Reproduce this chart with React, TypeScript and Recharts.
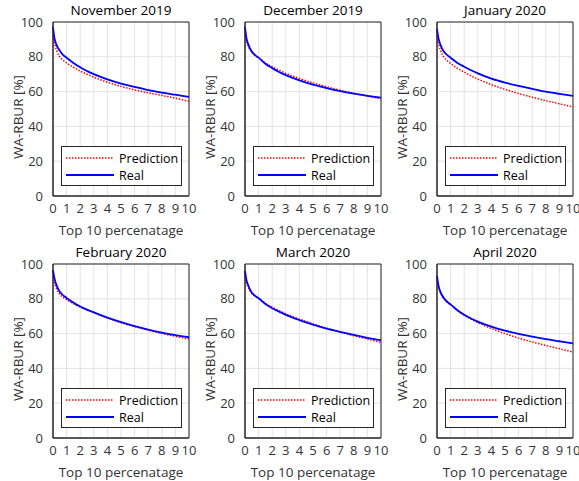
import React from 'react';
import {
  LineChart,
  Line,
  XAxis,
  YAxis,
  CartesianGrid,
  ReferenceArea,
} from 'recharts';

const topPct = [0, 0.1, 0.25, 0.5, 0.75, 1, 1.5, 2, 2.5, 3, 4, 5, 6, 7, 8, 9, 10];
const xTicks = [0, 1, 2, 3, 4, 5, 6, 7, 8, 9, 10];
const yTicks = [0, 20, 40, 60, 80, 100];

const months = ['November 2019', 'December 2019', 'January 2020', 'February 2020', 'March 2020', 'April 2020'];

const novReal = [97, 91, 87, 83.5, 81, 79.5, 76.5, 74, 71.8, 70, 67, 64.6, 62.7, 60.9, 59.4, 58.2, 57];
const novPred = [92, 88, 84, 80, 78, 76.5, 74, 71.8, 70, 68.3, 65.4, 63, 61, 59.3, 57.8, 56.2, 54.4];
const decReal = [97, 91, 87, 83, 81, 79.5, 76, 73.5, 71.3, 69.5, 66.5, 64, 62, 60.3, 58.8, 57.6, 56.5];
const decPred = [92, 89, 86, 82.5, 80.5, 79.5, 76.5, 74.3, 72.3, 70.5, 67.5, 65, 62.8, 60.8, 59, 57.4, 55.8];
const janReal = [96, 91, 87, 83, 81, 79.5, 76.5, 74.3, 72.3, 70.5, 67.5, 65.2, 63.3, 61.6, 60, 58.7, 57.5];
const janPred = [92, 88, 84, 80, 77.8, 76.2, 73.4, 71.2, 69, 67.2, 64, 61.3, 58.9, 56.8, 54.8, 53, 51.2];
const febReal = [96.5, 92, 88, 84, 82, 80.5, 77.8, 75.6, 73.8, 72.2, 69.2, 66.6, 64.3, 62.3, 60.6, 59.1, 57.9];
const febPred = [93, 89.5, 86, 82.5, 80.8, 79.5, 77.2, 75.2, 73.6, 72, 69, 66.3, 64, 62, 60.1, 58.4, 56.9];
const marReal = [96, 91, 87.5, 83.5, 81.7, 80.3, 77, 74.6, 72.6, 70.8, 67.8, 65.2, 62.9, 61, 59.2, 57.6, 56.2];
const marPred = [93, 89.5, 86.5, 83, 81.4, 80.2, 77.4, 75.2, 73.2, 71.4, 68.3, 65.6, 63.2, 60.9, 58.8, 56.9, 54.9];
const aprReal = [93.3, 88, 84, 80.5, 78.3, 76.8, 73.4, 70.8, 68.7, 66.9, 64, 61.7, 59.8, 58.2, 56.8, 55.6, 54.4];
const aprPred = [91, 87, 83.5, 80.2, 78, 76.6, 73.3, 70.6, 68.3, 66.3, 62.9, 60, 57.4, 55.2, 53.2, 51.3, 49.4];

const realSeries = [novReal, decReal, janReal, febReal, marReal, aprReal];
const predSeries = [novPred, decPred, janPred, febPred, marPred, aprPred];

const FONT = '"Open Sans", "DejaVu Sans", sans-serif';
const AX = '#262626';

const PLOT_W = 136;
const PLOT_H = 174;
const M_TOP = 22;
const Y_W = 53;
const X_H = 44;
const M_RIGHT = 9;
const CH_W = Y_W + PLOT_W + M_RIGHT;
const CH_H = M_TOP + PLOT_H + X_H;

const colLeft = [0, 192, 384];
const rowTop = [0, 242];

const LEG_W = 121;
const LEG_H = 40;

function LegendBox() {
  return (
    <div
      style={{
        position: 'absolute',
        left: Y_W + PLOT_W - 7 - LEG_W,
        top: M_TOP + PLOT_H - 10 - LEG_H,
        width: LEG_W,
        height: LEG_H,
        border: `1px solid ${AX}`,
        background: '#fff',
        boxSizing: 'border-box',
      }}
    >
      <svg width={LEG_W - 2} height={LEG_H - 2} style={{ position: 'absolute', left: 0, top: 0 }}>
        <line x1={4} x2={52} y1={11} y2={11} stroke="#ff0000" strokeWidth={1.5} strokeDasharray="1.5 1.5" />
        <line x1={4} x2={52} y1={28} y2={28} stroke="#0000ff" strokeWidth={1.8} />
        <text x={57} y={15.5} fontFamily={FONT} fontSize={12.5} fill="#000">Prediction</text>
        <text x={57} y={32.5} fontFamily={FONT} fontSize={12.5} fill="#000">Real</text>
      </svg>
    </div>
  );
}

function Panel({ idx }: { idx: number }) {
  const data = topPct.map((x, i) => ({
    x,
    pred: predSeries[idx][i],
    real: realSeries[idx][i],
  }));
  const left = colLeft[idx % 3];
  const top = rowTop[Math.floor(idx / 3)];
  const tick = { fontSize: 13, fill: '#333', fontFamily: FONT };

  return (
    <div style={{ position: 'absolute', left, top, width: CH_W, height: CH_H }}>
      <div
        style={{
          position: 'absolute',
          left: Y_W - 10,
          width: PLOT_W + 20,
          top: 1,
          textAlign: 'center',
          fontFamily: FONT,
          fontSize: 13.5,
          color: '#000',
          lineHeight: '18px',
          whiteSpace: 'nowrap',
        }}
      >
        {months[idx]}
      </div>
      <LineChart width={CH_W} height={CH_H} data={data} margin={{ top: M_TOP, right: M_RIGHT, bottom: 0, left: 0 }}>
        <CartesianGrid stroke="#e3e3e3" strokeWidth={1} />
        <XAxis
          dataKey="x"
          type="number"
          domain={[0, 10]}
          ticks={xTicks}
          interval={0}
          height={X_H}
          tickLine={false}
          axisLine={{ stroke: AX }}
          tick={tick}
          tickMargin={2}
          label={{
            value: 'Top 10 percenatage',
            position: 'insideBottom',
            offset: 5,
            style: { fontSize: 13.5, fill: '#333', fontFamily: FONT },
          }}
        />
        <YAxis
          type="number"
          domain={[0, 100]}
          ticks={yTicks}
          width={Y_W}
          tickLine={false}
          axisLine={{ stroke: AX }}
          tick={tick}
          tickMargin={4}
          label={(props: any) => {
            const vb = props.viewBox;
            const cx = 18;
            const cy = vb.y + vb.height / 2 + 8;
            return (
              <text
                x={cx}
                y={cy}
                transform={`rotate(-90 ${cx} ${cy})`}
                textAnchor="middle"
                dominantBaseline="central"
                fontSize={13.5}
                fill="#333"
                fontFamily={FONT}
              >
                WA-RBUR [%]
              </text>
            );
          }}
        />
        <ReferenceArea x1={0} x2={10} y1={0} y2={100} fill="none" stroke={AX} strokeWidth={1} ifOverflow="visible" />
        <Line
          dataKey="pred"
          type="monotone"
          stroke="#ff0000"
          strokeWidth={1.5}
          strokeDasharray="1.5 1.5"
          dot={false}
          isAnimationActive={false}
        />
        <Line
          dataKey="real"
          type="monotone"
          stroke="#0000ff"
          strokeWidth={1.8}
          dot={false}
          isAnimationActive={false}
        />
      </LineChart>
      <LegendBox />
    </div>
  );
}

export default function App() {
  return (
    <div style={{ position: 'absolute', left: 0, top: 0, width: 579, height: 481, background: '#fff' }}>
      {months.map((_, i) => (
        <Panel key={i} idx={i} />
      ))}
    </div>
  );
}
